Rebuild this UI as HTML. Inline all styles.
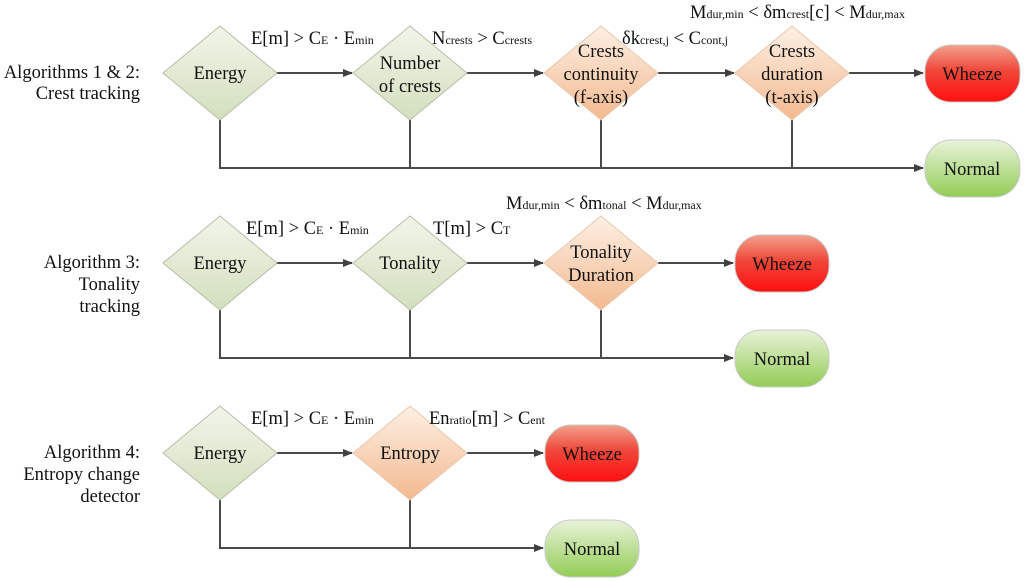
<!DOCTYPE html>
<html><head><meta charset="utf-8"><style>
html,body{margin:0;padding:0;background:#fff}
svg{display:block}
text{font-family:"Liberation Serif",serif;fill:#111}
</style></head><body>
<svg width="1024" height="582" viewBox="0 0 1024 582" xmlns="http://www.w3.org/2000/svg">
<defs>
<linearGradient id="g" x1="0" y1="0" x2="0" y2="1"><stop offset="0" stop-color="#f2f5ea"/><stop offset="1" stop-color="#d3dfbd"/></linearGradient>
<linearGradient id="o" x1="0" y1="0" x2="0" y2="1"><stop offset="0" stop-color="#fdf0e4"/><stop offset="1" stop-color="#f3b98f"/></linearGradient>
<linearGradient id="r" x1="0" y1="0" x2="0" y2="1"><stop offset="0" stop-color="#f2a08c"/><stop offset="0.45" stop-color="#f0473a"/><stop offset="1" stop-color="#ff0f0f"/></linearGradient>
<linearGradient id="n" x1="0" y1="0" x2="0" y2="1"><stop offset="0" stop-color="#e9f3da"/><stop offset="1" stop-color="#92cc55"/></linearGradient>
<marker id="a" markerWidth="10" markerHeight="8" refX="9" refY="4" orient="auto" markerUnits="userSpaceOnUse"><path d="M0,0 L10,4 L0,8 Z" fill="#404040"/></marker>
</defs>
<g stroke="#4a4a4a" stroke-width="2" fill="none">
<line x1="277" y1="73" x2="352" y2="73" marker-end="url(#a)"/>
<line x1="467" y1="73" x2="543" y2="73" marker-end="url(#a)"/>
<line x1="658" y1="73" x2="734" y2="73" marker-end="url(#a)"/>
<line x1="849" y1="73" x2="923" y2="73" marker-end="url(#a)"/>
<polyline points="220,120 220,168 923,168" marker-end="url(#a)"/>
<line x1="410" y1="120" x2="410" y2="168"/><line x1="601" y1="120" x2="601" y2="168"/><line x1="792" y1="120" x2="792" y2="168"/>
<line x1="277" y1="263" x2="352" y2="263" marker-end="url(#a)"/>
<line x1="467" y1="263" x2="543" y2="263" marker-end="url(#a)"/>
<line x1="658" y1="263" x2="733" y2="263" marker-end="url(#a)"/>
<polyline points="220,310 220,358 733,358" marker-end="url(#a)"/>
<line x1="410" y1="310" x2="410" y2="358"/><line x1="601" y1="310" x2="601" y2="358"/>
<line x1="277" y1="453" x2="352" y2="453" marker-end="url(#a)"/>
<line x1="467" y1="453" x2="543" y2="453" marker-end="url(#a)"/>
<polyline points="220,500 220,548 543,548" marker-end="url(#a)"/>
<line x1="410" y1="500" x2="410" y2="548"/>
</g>
<g stroke="#b8bda8" stroke-width="1">
<path d="M220,26 L277,73 L220,120 L163,73 Z" fill="url(#g)"/>
<path d="M410,26 L467,73 L410,120 L353,73 Z" fill="url(#g)"/>
<path d="M220,216 L277,263 L220,310 L163,263 Z" fill="url(#g)"/>
<path d="M410,216 L467,263 L410,310 L353,263 Z" fill="url(#g)"/>
<path d="M220,406 L277,453 L220,500 L163,453 Z" fill="url(#g)"/>
</g>
<g stroke="#e8c7ac" stroke-width="1">
<path d="M601,26 L658,73 L601,120 L544,73 Z" fill="url(#o)"/>
<path d="M792,26 L849,73 L792,120 L735,73 Z" fill="url(#o)"/>
<path d="M601,216 L658,263 L601,310 L544,263 Z" fill="url(#o)"/>
<path d="M410,406 L467,453 L410,500 L353,453 Z" fill="url(#o)"/>
</g>
<g stroke="#c9c9c9" stroke-width="1">
<rect x="925" y="45" width="95" height="57" rx="26" fill="url(#r)"/>
<rect x="925" y="140" width="95" height="57" rx="26" fill="url(#n)"/>
<rect x="735" y="235" width="94" height="57" rx="26" fill="url(#r)"/>
<rect x="735" y="330" width="94" height="57" rx="26" fill="url(#n)"/>
<rect x="545" y="425" width="94" height="57" rx="26" fill="url(#r)"/>
<rect x="545" y="520" width="94" height="57" rx="26" fill="url(#n)"/>
</g>
<g font-size="18.5" text-anchor="middle">
<text x="220" y="79">Energy</text>
<text x="410" y="69">Number</text><text x="410" y="92">of crests</text>
<text x="601" y="57">Crests</text><text x="601" y="80">continuity</text><text x="601" y="103">(f-axis)</text>
<text x="792" y="57">Crests</text><text x="792" y="80">duration</text><text x="792" y="103">(t-axis)</text>
<text x="972" y="80">Wheeze</text><text x="972" y="175">Normal</text>
<text x="220" y="269">Energy</text><text x="410" y="269">Tonality</text>
<text x="601" y="258">Tonality</text><text x="601" y="281">Duration</text>
<text x="782" y="270">Wheeze</text><text x="782" y="365">Normal</text>
<text x="220" y="459">Energy</text><text x="410" y="459">Entropy</text>
<text x="592" y="460">Wheeze</text><text x="592" y="555">Normal</text>
</g>
<g font-size="18.5" text-anchor="end">
<text x="140" y="78">Algorithms 1 &amp; 2:</text><text x="140" y="99">Crest tracking</text>
<text x="140" y="268">Algorithm 3:</text><text x="140" y="290">Tonality</text><text x="140" y="312">tracking</text>
<text x="140" y="458">Algorithm 4:</text><text x="140" y="480">Entropy change</text><text x="140" y="502">detector</text>
</g>
<g font-size="18.5">
<text x="251" y="44">E[m] &gt; C<tspan font-size="12">E</tspan> · E<tspan font-size="12">min</tspan></text>
<text x="432" y="44">N<tspan font-size="12">crests</tspan> &gt; C<tspan font-size="12">crests</tspan></text>
<text x="622" y="44">δk<tspan font-size="12">crest,j</tspan> &lt; C<tspan font-size="12">cont,j</tspan></text>
<text x="690" y="18">M<tspan font-size="12">dur,min</tspan> &lt; δm<tspan font-size="12">crest</tspan>[c] &lt; M<tspan font-size="12">dur,max</tspan></text>
<text x="246" y="234">E[m] &gt; C<tspan font-size="12">E</tspan> · E<tspan font-size="12">min</tspan></text>
<text x="433" y="234">T[m] &gt; C<tspan font-size="12">T</tspan></text>
<text x="506" y="209">M<tspan font-size="12">dur,min</tspan> &lt; δm<tspan font-size="12">tonal</tspan> &lt; M<tspan font-size="12">dur,max</tspan></text>
<text x="251" y="424">E[m] &gt; C<tspan font-size="12">E</tspan> · E<tspan font-size="12">min</tspan></text>
<text x="429" y="424">En<tspan font-size="12">ratio</tspan>[m] &gt; C<tspan font-size="12">ent</tspan></text>
</g>
</svg>
</body></html>
